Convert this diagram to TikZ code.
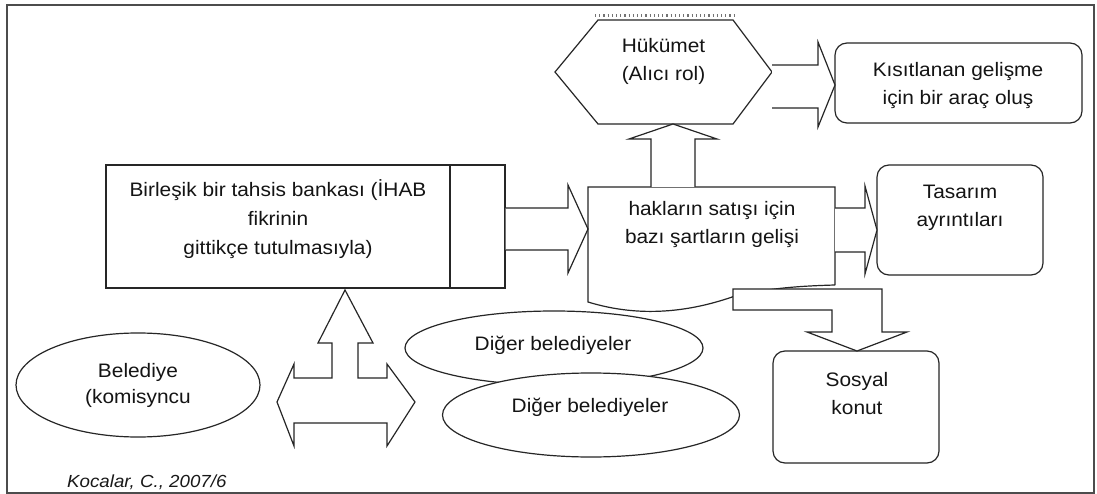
\documentclass[tikz,border=0pt]{standalone}
\usepackage{fontspec}
\setmainfont{Liberation Sans}[FakeStretch=1.07]
\usetikzlibrary{shapes.geometric}
\begin{document}
\begin{tikzpicture}[x=1pt,y=-1pt,
  ln/.style={draw=black!85, line width=1.2pt},
  shape box/.style={ln, fill=white, inner sep=0pt},
  txt/.style={align=center, text=black!92, inner sep=0pt,
    font=\fontsize{19.5}{28}\selectfont},
  blockarrow/.style={ln, fill=white, line join=miter}
]
\useasboundingbox (0,0) rectangle (1097,494);
\fill[white] (0,0) rectangle (1097,494);
% outer frame
\draw[line width=2pt, black!70] (7,5) rectangle (1094,493);

% ---- government hexagon
\draw[black!55, line width=2.5pt, dash pattern=on 1.2pt off 3pt] (595,15.5) -- (735,15.5);
\draw[ln, fill=white] (555,72) -- (598,20) -- (733,20) -- (772,72) -- (733,124) -- (598,124) -- cycle;
\node[txt] (gov) at (663.5,61) {Hükümet\\(Alıcı rol)};

% ---- rounded result boxes
\node[shape box, rounded corners=12pt, minimum width=247pt, minimum height=80pt] (devbox) at (958.5,83) {};
\node[txt] (dev) at (958,86) {Kısıtlanan gelişme\\için bir araç oluş};

\node[shape box, rounded corners=12pt, minimum width=166pt, minimum height=110pt] (designbox) at (960,220) {};
\node[txt] (design) at (960,207.5) {Tasarım\\ayrıntıları};

\node[shape box, rounded corners=12pt, minimum width=166pt, minimum height=112pt] (socialbox) at (856,407) {};
\node[txt] (social) at (857,393.5) {Sosyal\\konut};

% ---- allocation bank box with side compartment
\node[shape box, minimum width=399pt, minimum height=123pt] (bankbox) at (305.5,226.5) {};
\draw[ln] (450,165) -- (450,288);
\node[txt, font=\fontsize{19.5}{29}\selectfont] (bank) at (278,219)
  {Birleşik bir tahsis bankası (İHAB\\fikrinin\\gittikçe tutulmasıyla)};

% ---- document shape for the sale conditions
\draw[ln, fill=white] (835,285) -- (835,187) -- (588,187) -- (588,302)
  .. controls (640,318) and (690,312) .. (735,296)
  .. controls (770,288) and (800,286) .. (835,285);
\node[txt] (rights) at (712,225) {hakların satışı için\\bazı şartların gelişi};

% ---- municipalities
\node[ln, fill=white, ellipse, minimum width=244pt, minimum height=104pt, inner sep=0pt] (munbox) at (138,385) {};
\node[txt, font=\fontsize{19.5}{26}\selectfont] (mun) at (138,385) {Belediye\\(komisyncu};

\node[ln, fill=white, ellipse, minimum width=298pt, minimum height=74pt, inner sep=0pt] (other1) at (554,348) {};
\node[txt] at (553,345) {Diğer belediyeler};
\node[ln, fill=white, ellipse, minimum width=297pt, minimum height=84pt, inner sep=0pt] (other2) at (591,415) {};
\node[txt] at (590,407) {Diğer belediyeler};

% ---- block arrows
% bank -> rights
\draw[blockarrow] (bankbox.east |- 0,208) -- (568,208) -- (568,185) -- (588,229)
  -- (568,273) -- (568,250) -- (bankbox.east |- 0,250);
% rights -> design
\draw[blockarrow] (835,208) -- (865,208) -- (865,186) -- (877,230)
  -- (865,274) -- (865,252) -- (835,252);
% rights -> government
\draw[blockarrow] (651,187) -- (651,139) -- (629,139) -- (673,124)
  -- (717,139) -- (695,139) -- (695,187);
% government -> development tool
\draw[blockarrow] (772,65) -- (818,65) -- (818,42) -- (835,85)
  -- (818,127) -- (818,108) -- (772,108);
% rights -> social housing (bent)
\draw[blockarrow] (733,289) -- (882,289) -- (882,332) -- (907,332) -- (857,351)
  -- (807,332) -- (832,332) -- (832,310) -- (733,310) -- cycle;
% three-way arrow between municipalities and the bank
\draw[blockarrow] (345,290) -- (373,343) -- (358,343) -- (358,378) -- (387,378)
  -- (387,364) -- (415,402) -- (387,446) -- (387,423) -- (294,423) -- (294,446)
  -- (277,402) -- (294,364) -- (294,378) -- (332,378) -- (332,343) -- (318,343) -- cycle;

% ---- source
\node[txt, anchor=west, font=\fontsize{17.5}{20}\selectfont\itshape, text=black!90] (src) at (67,482) {Kocalar, C., 2007/6};
\end{tikzpicture}
\end{document}
